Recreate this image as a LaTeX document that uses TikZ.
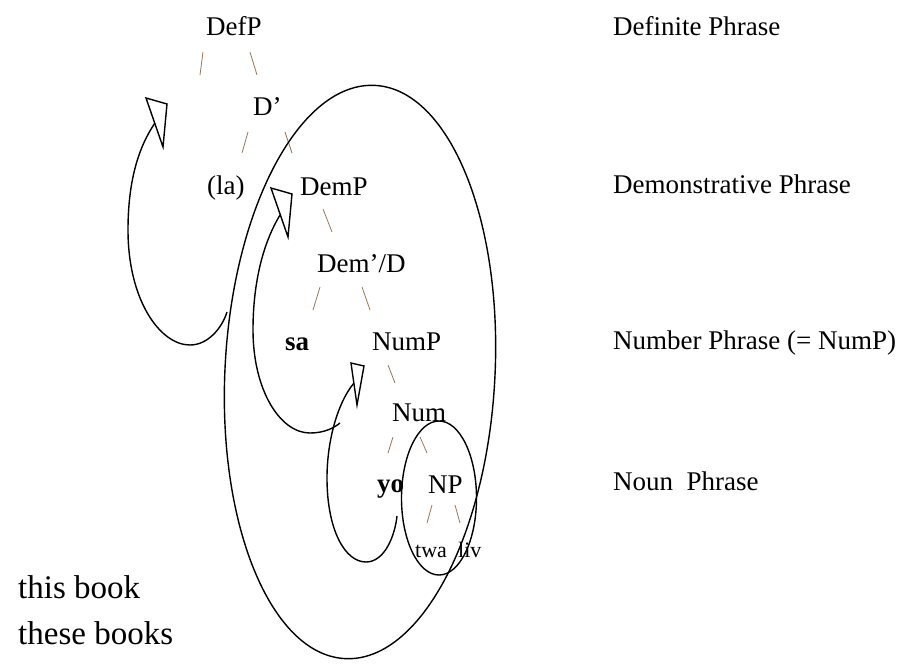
\documentclass[tikz,border=0pt]{standalone}
\usepackage{fontspec}
\setmainfont{Liberation Serif}
\newcommand\ftree{\fontsize{27pt}{30pt}\selectfont}
\newcommand\fsmall{\fontsize{22pt}{24pt}\selectfont}
\newcommand\fbig{\fontsize{33pt}{36pt}\selectfont}
\definecolor{slashcol}{RGB}{150,120,90}
\tikzset{
  lbl/.style={font=\ftree, anchor=base west, inner sep=0pt},
  slbl/.style={font=\fsmall, anchor=base west, inner sep=0pt},
  blbl/.style={font=\fbig, anchor=base west, inner sep=0pt},
  slashline/.style={draw=slashcol, line width=0.8pt},
  curve/.style={draw=black, line width=1.4pt},
  head/.style={draw=black, line width=1.4pt, fill=white, line join=miter},
}
\begin{document}
\begin{tikzpicture}[x=1pt,y=-1pt]
\useasboundingbox (0,0) rectangle (921,665);
% tree labels
\node[lbl] (defp) at (206,35) {DefP};
\node[lbl] (dbar) at (253,115) {D’};
\node[lbl] (la) at (207,194) {(la)};
\node[lbl] (demp) at (300,195) {DemP};
\node[lbl] (dembar) at (317,272) {Dem’/D};
\node[lbl] (sa) at (285,350) {\bfseries sa};
\node[lbl] (nump) at (372,350) {NumP};
\node[lbl] (num) at (392,421) {Num};
\node[lbl] (yo) at (377,492) {\bfseries yo};
\node[lbl] (np) at (428,493) {NP};
\node[slbl] (twa) at (415,557) {twa};
\node[slbl] (liv) at (458,557) {liv};
% right labels
\node[lbl] (r1) at (613,35) {Definite Phrase};
\node[lbl] (r2) at (613,193) {Demonstrative Phrase};
\node[lbl] (r3) at (613,349) {Number Phrase (= NumP)};
\node[lbl] (r4) at (613,490) {Noun\ \ Phrase};
% bottom left
\node[blbl] (b1) at (18,598) {this book};
\node[blbl] (b2) at (18,644) {these books};
% slashes
\draw[slashline] (203,52) -- (200,75);
\draw[slashline] (250,52) -- (257,75);
\draw[slashline] (248,132) -- (242,153);
\draw[slashline] (285,132) -- (292,153);
\draw[slashline] (323,209) -- (332,232);
\draw[slashline] (320,287) -- (313,310);
\draw[slashline] (362,287) -- (370,310);
\draw[slashline] (388,365) -- (395,383);
\draw[slashline] (393,437) -- (388,453);
\draw[slashline] (420,437) -- (427,453);
\draw[slashline] (432,505) -- (427,523);
\draw[slashline] (455,505) -- (460,523);
% ellipses
\coordinate (bigc) at (360,372);
\draw[curve, rotate around={-3:(bigc)}] (bigc) ellipse [x radius=135pt, y radius=287pt];
\coordinate (npc) at (439,498);
\draw[curve] (npc) ellipse [x radius=37.5pt, y radius=77pt];
% movement arrows
\coordinate (a1s) at (155,123);
\coordinate (a1e) at (227,312);
\draw[curve] (a1s) .. controls (135,152) and (128,190) .. (128,230)
  .. controls (128,300) and (160,345) .. (190,345)
  .. controls (208,345) and (222,328) .. (a1e);
\draw[head] (146,98) -- (167,104) -- (163,147) -- cycle;
\coordinate (a2s) at (280,215);
\coordinate (a2e) at (340,423);
\draw[curve] (a2s) .. controls (262,245) and (253,285) .. (253,330)
  .. controls (253,390) and (280,433) .. (310,433)
  .. controls (324,433) and (334,428) .. (a2e);
\draw[head] (271,188) -- (292,194) -- (288,237) -- cycle;
\coordinate (a3s) at (354,383);
\coordinate (a3e) at (397,516);
\draw[curve] (a3s) .. controls (338,402) and (327,440) .. (327,478)
  .. controls (327,530) and (345,562) .. (366,562)
  .. controls (385,562) and (395,535) .. (a3e);
\draw[head] (351,363) -- (364,366) -- (357,405) -- cycle;
\end{tikzpicture}
\end{document}
